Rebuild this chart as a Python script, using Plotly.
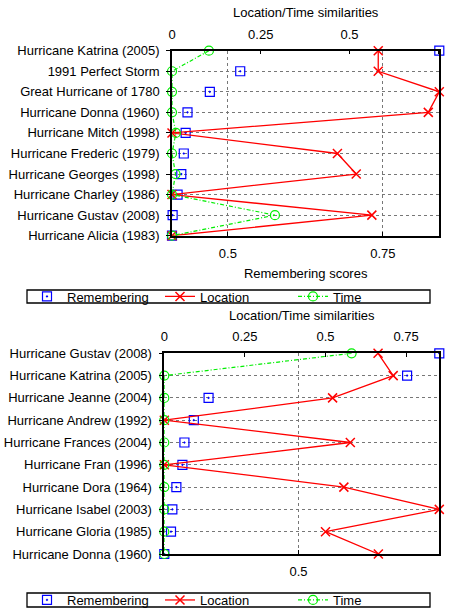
import plotly.graph_objects as go

# ---------------- data ----------------
top_names = ["Hurricane Katrina (2005)", "1991 Perfect Storm", "Great Hurricane of 1780",
             "Hurricane Donna (1960)", "Hurricane Mitch (1998)", "Hurricane Frederic (1979)",
             "Hurricane Georges (1998)", "Hurricane Charley (1986)", "Hurricane Gustav (2008)",
             "Hurricane Alicia (1983)"]
top_remembering = [0.841, 0.520, 0.471, 0.435, 0.432, 0.429, 0.425, 0.419, 0.411, 0.410]
top_location = [0.581, 0.581, 0.753, 0.722, 0.0, 0.466, 0.519, 0.0, 0.563, 0.0]
top_time = [0.104, 0.0, 0.0, 0.0, 0.011, 0.0, 0.010, 0.0, 0.290, 0.0]

bot_names = ["Hurricane Gustav (2008)", "Hurricane Katrina (2005)", "Hurricane Jeanne (2004)",
             "Hurricane Andrew (1992)", "Hurricane Frances (2004)", "Hurricane Fran (1996)",
             "Hurricane Dora (1964)", "Hurricane Isabel (2003)", "Hurricane Gloria (1985)",
             "Hurricane Donna (1960)"]
bot_remembering = [0.710, 0.662, 0.366, 0.344, 0.330, 0.327, 0.318, 0.312, 0.310, 0.300]
bot_location = [0.663, 0.710, 0.522, 0.0, 0.577, 0.0, 0.557, 0.853, 0.500, 0.664]
bot_time = [0.581, 0.0, 0.0, 0.0, 0.0, 0.0, 0.0, 0.0, 0.0, 0.0]

series_names = ["Remembering", "Location", "Time"]
top_title = "Location/Time similarities"
bottom_title = "Remembering scores"

# ---------------- style ----------------
FONT = "Liberation Sans, Arial, sans-serif"
FS = 13
BLUE, RED, GREEN = "#0000ff", "#ff0000", "#00ee00"
W, H = 449, 610

fig = go.Figure()


def add_panel(names, rem, loc, tim, xb, xt, ya, legend):
    fig.add_trace(go.Scatter(
        x=rem, y=names, xaxis=xb, yaxis=ya, mode="markers", name=series_names[0],
        legend=legend, cliponaxis=False,
        marker=dict(symbol="square-open-dot", size=9, color=BLUE, line=dict(width=1.2, color=BLUE))))
    fig.add_trace(go.Scatter(
        x=loc, y=names, xaxis=xt, yaxis=ya, mode="lines+markers", name=series_names[1],
        legend=legend, cliponaxis=False,
        line=dict(color=RED, width=1.3),
        marker=dict(symbol="x-thin-open", size=9, color=RED, line=dict(width=1.5, color=RED))))
    fig.add_trace(go.Scatter(
        x=tim, y=names, xaxis=xt, yaxis=ya, mode="lines+markers", name=series_names[2],
        legend=legend, cliponaxis=False,
        line=dict(color=GREEN, width=1.2, dash="4px,2px,1px,2px"),
        marker=dict(symbol="circle-open", size=9, color=GREEN, line=dict(width=1.2, color=GREEN))))


add_panel(top_names, top_remembering, top_location, top_time, "x", "x2", "y", "legend")
add_panel(bot_names, bot_remembering, bot_location, bot_time, "x3", "x4", "y2", "legend2")

tickfont = dict(family=FONT, size=FS, color="#000")
common_x = dict(showline=True, linecolor="#000", linewidth=1.5, ticks="inside", ticklen=4,
                tickcolor="#000", zeroline=False, tickfont=tickfont, dtick=0.25, tick0=0,
                ticklabelstandoff=5, automargin=False)
grid = dict(showgrid=True, gridcolor="#777", griddash="dot", gridwidth=1)


def ycat(names, domain, anchor):
    return dict(domain=domain, anchor=anchor, type="category", categoryorder="array",
                categoryarray=names, range=[len(names) - 1, 0], showline=True, mirror=True,
                linecolor="#000", linewidth=1.5, ticks="outside", ticklen=4, tickcolor="#000",
                tickfont=tickfont, zeroline=False, ticklabelstandoff=4, automargin=False, **grid)


legend_common = dict(orientation="h", x=27 / W, xanchor="left",
                     borderwidth=0, bgcolor="rgba(0,0,0,0)", entrywidth=88,
                     font=dict(family=FONT, size=FS), traceorder="normal",
                     itemwidth=30, tracegroupgap=0)

title_font = dict(family=FONT, size=FS)

fig.update_layout(
    width=W, height=H, margin=dict(l=0, r=0, t=0, b=0, autoexpand=False),
    paper_bgcolor="white", plot_bgcolor="white",
    font=dict(family=FONT, size=FS, color="#000"),
    xaxis=dict(domain=[172 / W, 439.3 / W], anchor="y", side="bottom",
               range=[min(top_remembering), max(top_remembering)],
               title=dict(text=bottom_title, font=title_font, standoff=9),
               **common_x, **grid),
    xaxis2=dict(overlaying="x", anchor="y", side="top",
                range=[0, max(top_location)], showgrid=False,
                title=dict(text=top_title, font=title_font, standoff=6),
                **common_x),
    yaxis=ycat(top_names, [1 - 235.7 / H, 1 - 50.7 / H], "x"),
    xaxis3=dict(domain=[164.3 / W, 439.3 / W], anchor="y2", side="bottom",
                range=[min(bot_remembering), max(bot_remembering)],
                **common_x, **grid),
    xaxis4=dict(overlaying="x3", anchor="y2", side="top",
                range=[0, max(bot_location)], showgrid=False,
                title=dict(text=top_title, font=title_font, standoff=6),
                **common_x),
    yaxis2=ycat(bot_names, [1 - 554 / H, 1 - 353.3 / H], "x3"),
    legend=dict(y=1 - 296.5 / H, yanchor="middle", **legend_common),
    legend2=dict(y=1 - 600 / H, yanchor="middle", **legend_common),
    shapes=[
        dict(type="rect", xref="paper", yref="paper", x0=27 / W, x1=430 / W,
             y0=1 - 303 / H, y1=1 - 290 / H, line=dict(color="#000", width=1.3),
             fillcolor="rgba(0,0,0,0)", layer="above"),
        dict(type="rect", xref="paper", yref="paper", x0=27 / W, x1=430 / W,
             y0=1 - 607 / H, y1=1 - 593 / H, line=dict(color="#000", width=1.3),
             fillcolor="rgba(0,0,0,0)", layer="above"),
    ],
)

fig.write_html("out.html", config={"displayModeBar": False},
               post_script="document.body.style.margin='0';")
